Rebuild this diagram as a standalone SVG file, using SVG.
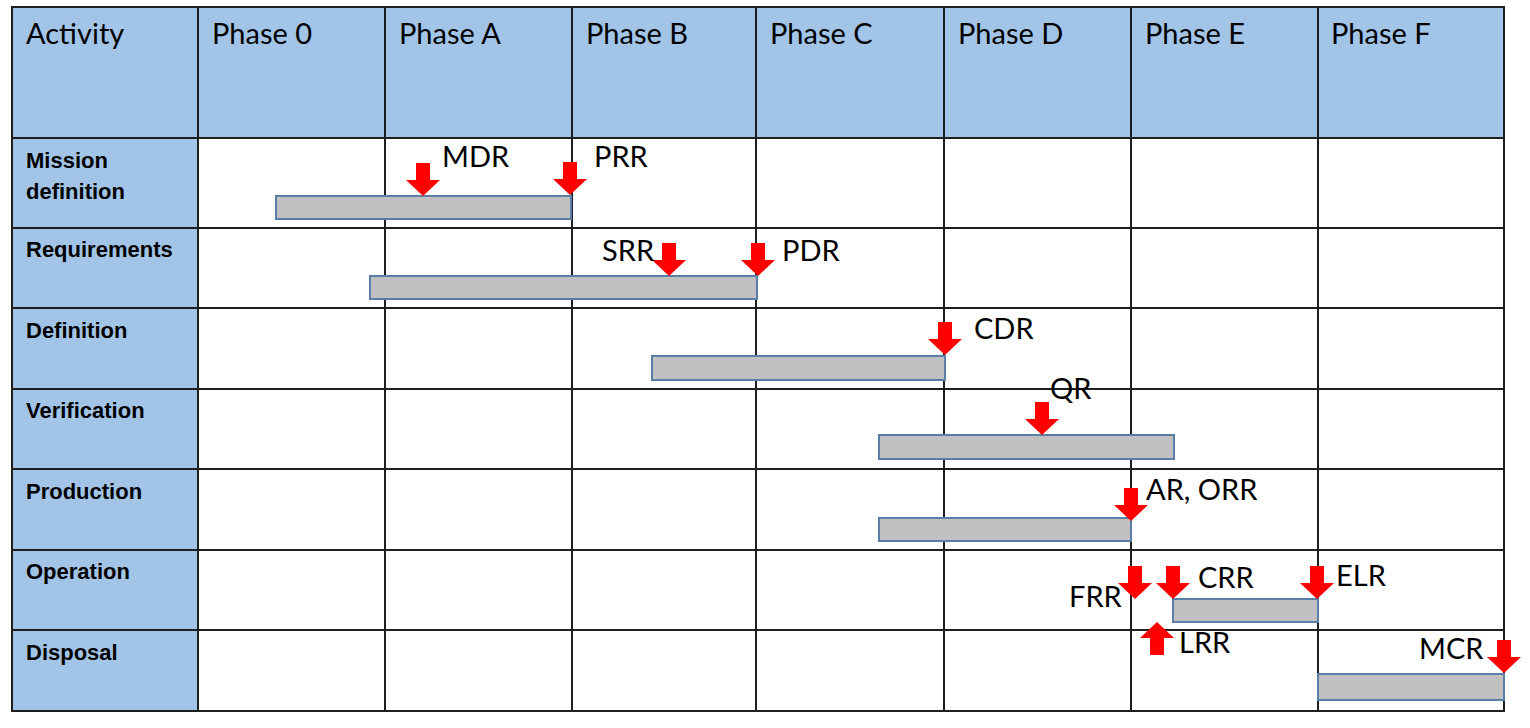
<svg xmlns="http://www.w3.org/2000/svg" width="1530" height="728" viewBox="0 0 1530 728">
<style>
.hdr{fill:#a2c5e7}
.grid{stroke:#1e1e1e;stroke-width:2;fill:none}
.ht{font-family:Lato,"Liberation Sans",sans-serif;font-size:29px;fill:#000}
.rl{font-family:"Liberation Sans",Arial,sans-serif;font-weight:bold;font-size:22px;fill:#000}
.ml{font-family:Lato,"Liberation Sans",sans-serif;font-size:29px;fill:#000}
.bar{fill:#c0c0c0;stroke:#5a7fa6;stroke-width:2}
.arr{fill:#ff0000}
</style>
<defs>
<path id="down" d="M-7,0 H7 V17 H17 L0,33 L-17,17 H-7 Z"/>
<path id="up" d="M-7,0 H7 V-17 H17 L0,-33 L-17,-17 H-7 Z"/>
</defs>
<rect x="0" y="0" width="1530" height="728" fill="#fff"/>
<g id="header">
<rect class="hdr" x="12" y="7" width="1492" height="131"/>
<rect class="hdr" x="12" y="138" width="186" height="573"/>
<text class="ht" x="26" y="44">Activity</text>
<text class="ht" x="212" y="44">Phase 0</text>
<text class="ht" x="399" y="44">Phase A</text>
<text class="ht" x="586" y="44">Phase B</text>
<text class="ht" x="770" y="44">Phase C</text>
<text class="ht" x="958" y="44">Phase D</text>
<text class="ht" x="1145" y="44">Phase E</text>
<text class="ht" x="1331" y="44">Phase F</text>
</g>
<g id="grid" class="grid">
<rect x="12" y="7" width="1492" height="704"/>
<path d="M198,7V711 M385,7V711 M572,7V711 M756,7V711 M944,7V711 M1131,7V711 M1318,7V711"/>
<path d="M12,138H1504 M12,228H1504 M12,308H1504 M12,389H1504 M12,469H1504 M12,550H1504 M12,630H1504"/>
</g>
<g id="row-labels">
<text class="rl" x="26" y="168">Mission</text>
<text class="rl" x="26" y="199">definition</text>
<text class="rl" x="26" y="257">Requirements</text>
<text class="rl" x="26" y="338">Definition</text>
<text class="rl" x="26" y="418">Verification</text>
<text class="rl" x="26" y="499">Production</text>
<text class="rl" x="26" y="579">Operation</text>
<text class="rl" x="26" y="660">Disposal</text>
</g>
<g id="bars">
<rect class="bar" x="276" y="196" width="295" height="23"/>
<rect class="bar" x="370" y="276" width="387" height="23"/>
<rect class="bar" x="652" y="356" width="293" height="24"/>
<rect class="bar" x="879" y="435" width="295" height="24"/>
<rect class="bar" x="879" y="518" width="252" height="23"/>
<rect class="bar" x="1173" y="599" width="145" height="23"/>
<rect class="bar" x="1318" y="674" width="186" height="26"/>
</g>
<g id="milestones">
<use href="#down" class="arr" x="423" y="163"/>
<text class="ml" x="442" y="167">MDR</text>
<use href="#down" class="arr" x="570" y="162"/>
<text class="ml" x="594" y="167">PRR</text>
<use href="#down" class="arr" x="669" y="243"/>
<text class="ml" x="602" y="261">SRR</text>
<use href="#down" class="arr" x="758" y="243"/>
<text class="ml" x="782" y="261">PDR</text>
<use href="#down" class="arr" x="945" y="322"/>
<text class="ml" x="974" y="339">CDR</text>
<use href="#down" class="arr" x="1042" y="402"/>
<text class="ml" x="1050" y="399">QR</text>
<use href="#down" class="arr" x="1131" y="488"/>
<text class="ml" x="1146" y="500">AR, ORR</text>
<use href="#down" class="arr" x="1135" y="566"/>
<text class="ml" x="1069" y="607">FRR</text>
<use href="#down" class="arr" x="1173" y="566"/>
<text class="ml" x="1198" y="588">CRR</text>
<use href="#down" class="arr" x="1317" y="566"/>
<text class="ml" x="1336" y="586">ELR</text>
<use href="#up" class="arr" x="1157" y="655"/>
<text class="ml" x="1179" y="653">LRR</text>
<use href="#down" class="arr" x="1504" y="640"/>
<text class="ml" x="1419" y="659">MCR</text>
</g>
</svg>
